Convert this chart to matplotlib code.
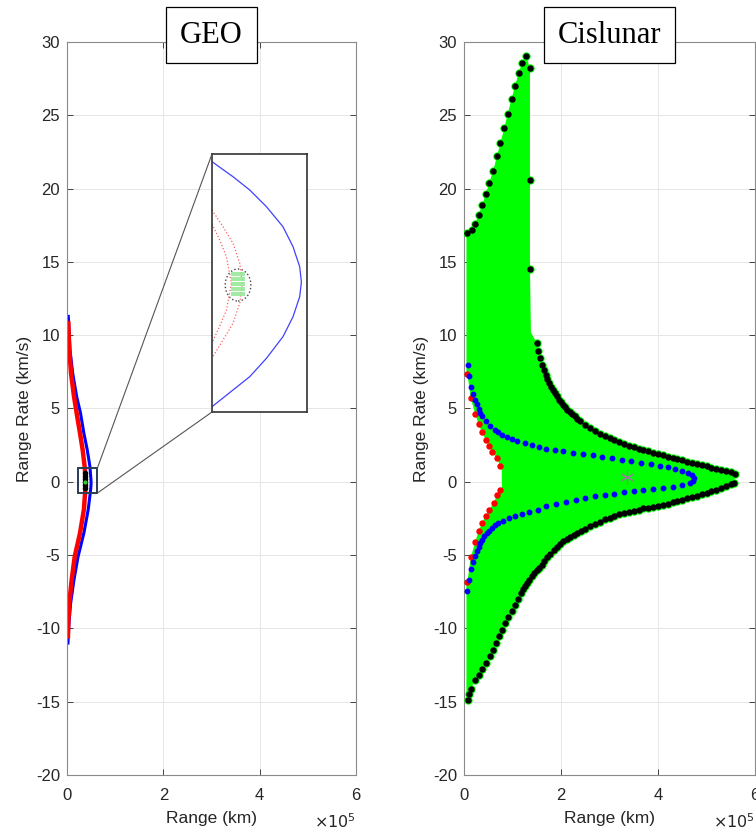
import numpy as np
import matplotlib
matplotlib.use("Agg")
import matplotlib.pyplot as plt
from matplotlib.patches import Rectangle, Ellipse, ConnectionPatch

plt.rcParams['font.family'] = ['Liberation Sans', 'DejaVu Sans']
plt.rcParams['axes.unicode_minus'] = False

# ---------------- GEO panel data (range in 1e5 km, range rate in km/s) ----------------
geo_blue_r = [0.027, 0.062, 0.118, 0.20, 0.28, 0.35, 0.42, 0.476, 0.497, 0.50,
              0.497, 0.49, 0.44, 0.35, 0.23, 0.145, 0.076, 0.041, 0.02]
geo_blue_v = [11.28, 9.0, 7.41, 5.82, 4.69, 3.32, 2.18, 1.04, 0.14, -0.1,
              -0.3, -0.55, -1.91, -3.5, -5.1, -6.68, -8.27, -9.64, -11.0]
geo_red_r = [0.027, 0.048, 0.083, 0.145, 0.20, 0.27, 0.325, 0.366, 0.387, 0.385,
             0.38, 0.35, 0.27, 0.16, 0.097, 0.048, 0.027, 0.02]
geo_red_v = [10.83, 9.0, 7.41, 5.82, 4.69, 3.32, 2.18, 1.04, 0.14, -0.2,
             -0.55, -1.91, -3.5, -5.1, -6.68, -8.27, -9.64, -10.55]
# zoom box on the GEO panel
zoom_r = [0.22, 0.63]
zoom_v = [-0.77, 0.93]
# black cluster inside the zoom box
cluster_r = 0.38
cluster_v = [-0.4, -0.2, 0.0, 0.2, 0.4, 0.6]

# inset (zoomed) curves, inset units
inset_blue_x = [0, 2.21, 3.97, 5.73, 7.47, 8.53, 9.23, 9.41, 9.23, 8.53, 7.47, 5.73, 3.97, 2.21, 0]
inset_blue_y = [12.13, 10.63, 9.3, 7.63, 5.63, 3.63, 1.63, 0.1, -1.37, -3.37, -5.37, -7.53, -9.37, -10.7, -12.37]
inset_red1_x = [0, 1.16, 2.21, 2.92, 3.2, 2.92, 2.21, 1.16, 0]
inset_red1_y = [7.3, 5.63, 3.97, 1.97, -0.03, -2.03, -4.03, -5.7, -7.5]
inset_red2_x = [0, 0.81, 1.52, 2.04, 1.52, 0.81, 0]
inset_red2_y = [5.9, 4.3, 2.63, 0, -2.7, -4.3, -6.0]
inset_circle = (2.74, -0.2)
inset_circle_w, inset_circle_h = 2.7, 3.2
inset_green_y = [1.0, 0.75, 0.5, 0.25, 0.0, -0.25, -0.5, -0.75, -1.0, -1.25]

# ---------------- Cislunar panel data ----------------
# outer (black) boundary, ordered from the top-left corner round to the bottom
black_r = [0.07, 0.16, 0.23, 0.30, 0.37, 0.45, 0.52, 0.60, 0.68, 0.75, 0.83, 0.90, 0.98,
           1.05, 1.13, 1.20, 1.28, 1.36, 1.36, 1.36,
           1.50, 1.53, 1.57, 1.61, 1.65, 1.69, 1.72, 1.76, 1.80, 1.84, 1.88, 1.92, 1.96,
           2.01, 2.05, 2.09, 2.13, 2.18, 2.22, 2.28, 2.33, 2.40,
           2.5, 2.6, 2.7, 2.8, 2.9, 3.0, 3.1, 3.2, 3.3, 3.4, 3.5, 3.6, 3.7, 3.8, 3.9, 4.0,
           4.1, 4.2, 4.3, 4.4, 4.5, 4.6, 4.7, 4.8, 4.9, 5.0, 5.1, 5.2, 5.3, 5.4, 5.5, 5.58,
           5.57, 5.5, 5.4, 5.3, 5.2, 5.1, 5.0, 4.9, 4.8, 4.7, 4.6, 4.5, 4.4, 4.3, 4.2, 4.1,
           4.0, 3.9, 3.8, 3.7, 3.6, 3.5, 3.4, 3.3, 3.2, 3.1, 3.0, 2.9, 2.8, 2.7, 2.6, 2.5,
           2.42, 2.34, 2.26, 2.19, 2.12, 2.05, 1.98, 1.92, 1.85, 1.78, 1.71, 1.65, 1.60,
           1.55, 1.50, 1.45, 1.40, 1.35, 1.30, 1.25, 1.21, 1.17, 1.12, 1.05, 0.98, 0.91,
           0.85, 0.78, 0.72, 0.67, 0.60, 0.54, 0.46, 0.37, 0.30, 0.23, 0.14, 0.11, 0.08]
black_v = [16.96, 17.2, 17.6, 18.2, 18.85, 19.6, 20.4, 21.2, 22.2, 23.1, 24.1, 25.1, 26.1,
           27.0, 27.9, 28.6, 29.06, 28.2, 20.6, 14.5,
           9.46, 8.95, 8.44, 8.0, 7.64, 7.3, 7.0, 6.75, 6.5, 6.27, 6.05, 5.82, 5.6,
           5.42, 5.25, 5.07, 4.9, 4.77, 4.64, 4.47, 4.3, 4.12,
           3.87, 3.64, 3.44, 3.28, 3.12, 2.98, 2.84, 2.70, 2.58, 2.47, 2.37, 2.27, 2.17, 2.08,
           1.99, 1.90, 1.81, 1.72, 1.64, 1.55, 1.47, 1.38, 1.30, 1.21, 1.13, 1.05, 0.97, 0.89,
           0.81, 0.73, 0.64, 0.50,
           -0.05, -0.15, -0.27, -0.42, -0.53, -0.64, -0.75, -0.86, -0.94, -1.02, -1.11, -1.21,
           -1.31, -1.41, -1.49, -1.56, -1.62, -1.69, -1.76, -1.82, -1.89, -1.96, -2.04, -2.13,
           -2.22, -2.34, -2.45, -2.57, -2.72, -2.87, -3.04, -3.23,
           -3.35, -3.47, -3.6, -3.76, -3.91, -4.07, -4.26, -4.45, -4.64, -4.9, -5.15, -5.4,
           -5.65, -5.85, -6.05, -6.25, -6.45, -6.68, -6.9, -7.1, -7.3, -7.6, -8.0, -8.4, -8.8,
           -9.2, -9.65, -10.1, -10.55, -11.0, -11.45, -11.9, -12.35, -12.8, -13.15, -13.5,
           -14.1, -14.5, -14.9]
# the green column keeps its right edge down to about 10 km/s
column_edge_r, column_edge_v = 1.38, 10.2
# red inner boundary (upper branch then lower branch)
red_up_r = [0.07, 0.14, 0.23, 0.30, 0.37, 0.45, 0.52, 0.58, 0.68, 0.74]
red_up_v = [7.37, 5.7, 4.64, 3.93, 3.39, 2.86, 2.41, 2.0, 1.62, 1.11]
red_lo_r = [0.74, 0.68, 0.61, 0.52, 0.45, 0.37, 0.30, 0.23, 0.14, 0.07]
red_lo_v = [-0.59, -0.93, -1.45, -1.91, -2.3, -2.82, -3.39, -4.11, -5.16, -6.84]
# blue curve
blue_r = [0.08, 0.11, 0.14, 0.18, 0.23, 0.26, 0.30, 0.34, 0.38, 0.45, 0.54, 0.64, 0.71,
          0.78, 0.88, 0.98, 1.1, 1.26, 1.4, 1.55, 1.7, 1.88, 2.05, 2.25, 2.45, 2.65, 2.85,
          3.05, 3.25, 3.45, 3.65, 3.85, 4.05, 4.2, 4.35, 4.5, 4.62, 4.71, 4.75,
          4.72, 4.65, 4.5, 4.3, 4.1, 3.9, 3.7, 3.5, 3.3, 3.1, 2.9, 2.7, 2.5, 2.3, 2.1,
          1.9, 1.7, 1.53, 1.35, 1.19, 1.05, 0.92, 0.81, 0.71, 0.63, 0.57, 0.52, 0.47,
          0.42, 0.38, 0.34, 0.30, 0.26, 0.23, 0.18, 0.14, 0.11, 0.07]
blue_v = [7.98, 7.2, 6.46, 6.0, 5.6, 5.28, 4.98, 4.72, 4.5, 4.18, 3.82, 3.55, 3.37,
          3.2, 3.05, 2.9, 2.78, 2.64, 2.5, 2.38, 2.27, 2.16, 2.07, 1.98, 1.89, 1.8, 1.7,
          1.6, 1.5, 1.4, 1.3, 1.2, 1.1, 1.0, 0.85, 0.72, 0.6, 0.45, 0.25,
          0.05, -0.1, -0.22, -0.33, -0.42, -0.5, -0.57, -0.64, -0.72, -0.8, -0.9, -1.0,
          -1.1, -1.22, -1.35, -1.5, -1.68, -1.91, -2.05, -2.2, -2.33, -2.48, -2.64, -2.82,
          -2.98, -3.16, -3.33, -3.5, -3.73, -3.96, -4.2, -4.46, -4.75, -5.05, -5.5, -5.93,
          -6.7, -7.48]
fill_rmin = 0.05      # inner edge of the green region
notch_r = 0.78        # edge of the green region between the red branches
center_r, center_v = 3.36, 0.32

xticks = [0, 2, 4, 6]
yticks = list(range(-20, 35, 5))

fig = plt.figure(figsize=(7.56, 8.30), dpi=100)
ax1 = fig.add_axes([67 / 756, 1 - 775 / 830, 289 / 756, 733 / 830])
ax2 = fig.add_axes([464 / 756, 1 - 775 / 830, 291 / 756, 733 / 830])


def style(ax, title):
    ax.set_xlim(0, 6)
    ax.set_ylim(-20, 30)
    ax.set_xticks(xticks)
    ax.set_yticks(yticks)
    ax.set_xticklabels([str(t) for t in xticks])
    ax.grid(True, color='#e6e6e6', lw=0.7)
    ax.set_axisbelow(True)
    ax.tick_params(direction='in', length=4, width=0.6, top=True, right=True,
                   labelsize=12, colors='#262626')
    ax.tick_params(axis='x', pad=9)
    ax.tick_params(axis='y', pad=5)
    for s in ax.spines.values():
        s.set_color('#8a8a8a')
        s.set_linewidth(0.8)
    ax.set_xlabel('Range (km)', fontsize=12.5, color='#262626', labelpad=6)
    ax.set_ylabel('Range Rate (km/s)', fontsize=12.5, color='#262626', labelpad=3)
    ax.text(1.0, -0.064, r'$\times10^{5}$', transform=ax.transAxes, ha='right',
            va='center', fontsize=11.5, color='#262626')
    ax.text(0.5, 1.0095, title, transform=ax.transAxes, ha='center', va='center',
            fontsize=22, family='Liberation Serif', zorder=10, clip_on=False,
            bbox=dict(boxstyle='square,pad=0.45', fc='white', ec='black', lw=0.9))


style(ax1, 'GEO')
style(ax2, 'Cislunar')

# ---- GEO panel ----
ax1.plot(geo_blue_r, geo_blue_v, color='#0000ff', lw=2.2)
ax1.plot(geo_red_r, geo_red_v, color='#ff0000', lw=3.2)
ax1.plot([cluster_r] * len(cluster_v), cluster_v, 'o', color='black', ms=3)
ax1.plot([cluster_r - 0.01], [0.02], 'o', color='#33cc33', ms=2)
ax1.add_patch(Rectangle((zoom_r[0], zoom_v[0]), zoom_r[1] - zoom_r[0], zoom_v[1] - zoom_v[0],
                        fill=False, ec='#2a3b55', lw=1.4, zorder=5))

axin = fig.add_axes([212 / 756, 1 - 412 / 830, 95 / 756, 258 / 830])
axin.set_xlim(0, 10)
axin.set_ylim(-12.9, 12.9)
axin.set_xticks([])
axin.set_yticks([])
for s in axin.spines.values():
    s.set_color('#333333')
    s.set_linewidth(1.2)
axin.plot(inset_blue_x, inset_blue_y, color='#4040ff', lw=0.9)
axin.plot(inset_red1_x, inset_red1_y, color='#ff6060', lw=0.9, ls=':')
axin.plot(inset_red2_x, inset_red2_y, color='#ff6060', lw=0.9, ls=':')
axin.hlines(inset_green_y, inset_circle[0] - 0.75, inset_circle[0] + 0.75, color='#90e890', lw=1.2)
axin.add_patch(Ellipse(inset_circle, inset_circle_w, inset_circle_h, fill=False,
                       ec='#444444', lw=1.0, ls=':'))

for corner_v, ycorner in [(zoom_v[1], 1), (zoom_v[0], 0)]:
    cp = ConnectionPatch(xyA=(zoom_r[1], corner_v), coordsA=ax1.transData,
                         xyB=(0, ycorner), coordsB=axin.transAxes,
                         color='#555555', lw=0.8)
    fig.add_artist(cp)

# ---- Cislunar panel ----
outer_r = black_r[:20] + [column_edge_r] + black_r[20:]
outer_v = black_v[:20] + [column_edge_v] + black_v[20:]
poly_r = np.concatenate([[fill_rmin], outer_r, [fill_rmin, fill_rmin], red_lo_r[::-1],
                         [notch_r, notch_r], red_up_r[::-1], [fill_rmin]])
poly_v = np.concatenate([[outer_v[0]], outer_v, [outer_v[-1], red_lo_v[-1]], red_lo_v[::-1],
                         [red_lo_v[0], red_up_v[-1]], red_up_v[::-1], [red_up_v[0]]])
ax2.fill(poly_r, poly_v, color='#00ff00', lw=0, zorder=2)
ax2.plot(black_r, black_v, 'o', color='#00ff00', ms=5, zorder=3)
ax2.plot(black_r, black_v, 'o', color='black', ms=3.6, zorder=4)
ax2.plot(red_up_r + red_lo_r, red_up_v + red_lo_v, 'o', color='#ff0000', ms=3.6, zorder=4)
ax2.plot(blue_r, blue_v, 'o', color='#0000ff', ms=3.2, zorder=5)
ax2.plot([center_r], [center_v], marker=(6, 2, 0), color='#9a7aa0', ms=10, mew=0.8, zorder=6)

fig.savefig('out.png', dpi=100)
